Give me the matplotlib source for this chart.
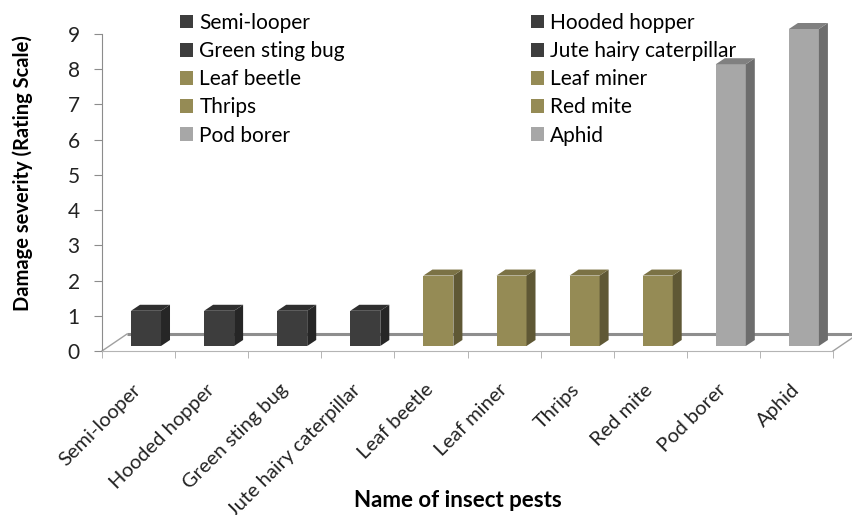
import matplotlib
matplotlib.use('Agg')
from matplotlib import pyplot as plt
from matplotlib.patches import Polygon

pests = ['Semi-looper', 'Hooded hopper', 'Green sting bug', 'Jute hairy caterpillar',
         'Leaf beetle', 'Leaf miner', 'Thrips', 'Red mite', 'Pod borer', 'Aphid']
severity = [1, 1, 1, 1, 2, 2, 2, 2, 8, 9]
groups = ['dark', 'dark', 'dark', 'dark', 'olive', 'olive', 'olive', 'olive', 'grey', 'grey']

# front, side, top colours for each group
face_colors = {
    'dark': ('#3d3d3d', '#262626', '#2f2f2f'),
    'olive': ('#958b55', '#5f5835', '#7b7245'),
    'grey': ('#a7a7a7', '#6d6d6d', '#808080'),
}

plt.rcParams['font.family'] = ['Lato', 'DejaVu Sans']

W, H = 853, 515
fig = plt.figure(figsize=(W / 100, H / 100), dpi=100)
ax_l, ax_r, ax_t, ax_b = 102, 833, 34, 351
ax = fig.add_axes([ax_l / W, 1 - ax_b / H, (ax_r - ax_l) / W, (ax_b - ax_t) / H])

n = len(pests)
ax.set_xlim(-0.5, n - 0.5)
ax.set_ylim(0, 9)

# pixel -> data units
px_x = n / (ax_r - ax_l)
px_y = 9 / (ax_b - ax_t)

# floor (back edge + side diagonals)
back_dx, back_dy = 25 * px_x, 17 * px_y
ax.plot([-0.5 + back_dx, n - 0.5 + back_dx + 2], [back_dy, back_dy], color='#8e8e8e', lw=2.2,
        clip_on=False, zorder=1, solid_capstyle='butt')
ax.plot([-0.5, -0.5 + back_dx], [0, back_dy], color='#a0a0a0', lw=1, clip_on=False, zorder=1)
ax.plot([n - 0.5, n - 0.5 + back_dx], [0, back_dy], color='#a0a0a0', lw=1, clip_on=False, zorder=1)

# 3D-looking bars
off_x, off_y = 0.102, 5 * px_y
bw = 30 * px_x
dep_x, dep_y = 9 * px_x, 6 * px_y
for i, (name, val, g) in enumerate(zip(pests, severity, groups)):
    front, side, top = face_colors[g]
    xc = i + off_x
    x0, x1 = xc - bw / 2, xc + bw / 2
    y0, y1 = off_y, off_y + val
    ax.bar(xc, val, width=bw, bottom=off_y, color=front, label=name, zorder=3, clip_on=False)
    ax.add_patch(Polygon([(x1, y0), (x1 + dep_x, y0 + dep_y), (x1 + dep_x, y1 + dep_y), (x1, y1)],
                         closed=True, facecolor=side, edgecolor='none', zorder=3, clip_on=False))
    ax.add_patch(Polygon([(x0, y1), (x0 + dep_x, y1 + dep_y), (x1 + dep_x, y1 + dep_y), (x1, y1)],
                         closed=True, facecolor=top, edgecolor='none', zorder=3, clip_on=False))

for s in ['top', 'right']:
    ax.spines[s].set_visible(False)
ax.spines['left'].set_color('#8c8c8c')
ax.spines['bottom'].set_color('#b4b4b4')

ax.set_yticks(range(10))
ax.tick_params(axis='y', length=6, color='#8c8c8c', labelsize=15, pad=10, labelcolor='#222222')

ax.set_xticks([k - 0.5 for k in range(n + 1)], minor=True)
ax.tick_params(axis='x', which='minor', length=5, color='#a8a8a8')
ax.set_xticks(range(n))
ax.set_xticklabels(pests, rotation=45, ha='right', va='center', rotation_mode='anchor', fontsize=14.5)
ax.tick_params(axis='x', which='major', length=0, pad=26, labelcolor='#222222')

ax.set_ylabel('Damage severity (Rating Scale)', fontsize=14.5, fontweight='bold')
ax.yaxis.set_label_coords(-0.094, 0.56)
ax.set_xlabel('Name of insect pests', fontsize=16, fontweight='bold')
ax.xaxis.set_label_coords(0.487, -0.44)

handles, labels = ax.get_legend_handles_labels()
leg_kw = dict(loc='upper left', bbox_transform=fig.transFigure, frameon=False, fontsize=15,
              handlelength=0.63, handleheight=0.63, handletextpad=0.3, labelspacing=0.39,
              borderaxespad=0, borderpad=0)
leg1 = ax.legend(handles[0::2], labels[0::2], bbox_to_anchor=(180 / W, 1 - 13 / H), **leg_kw)
ax.add_artist(leg1)
ax.legend(handles[1::2], labels[1::2], bbox_to_anchor=(531 / W, 1 - 13 / H), **leg_kw)

fig.savefig('out.png', dpi=100)
